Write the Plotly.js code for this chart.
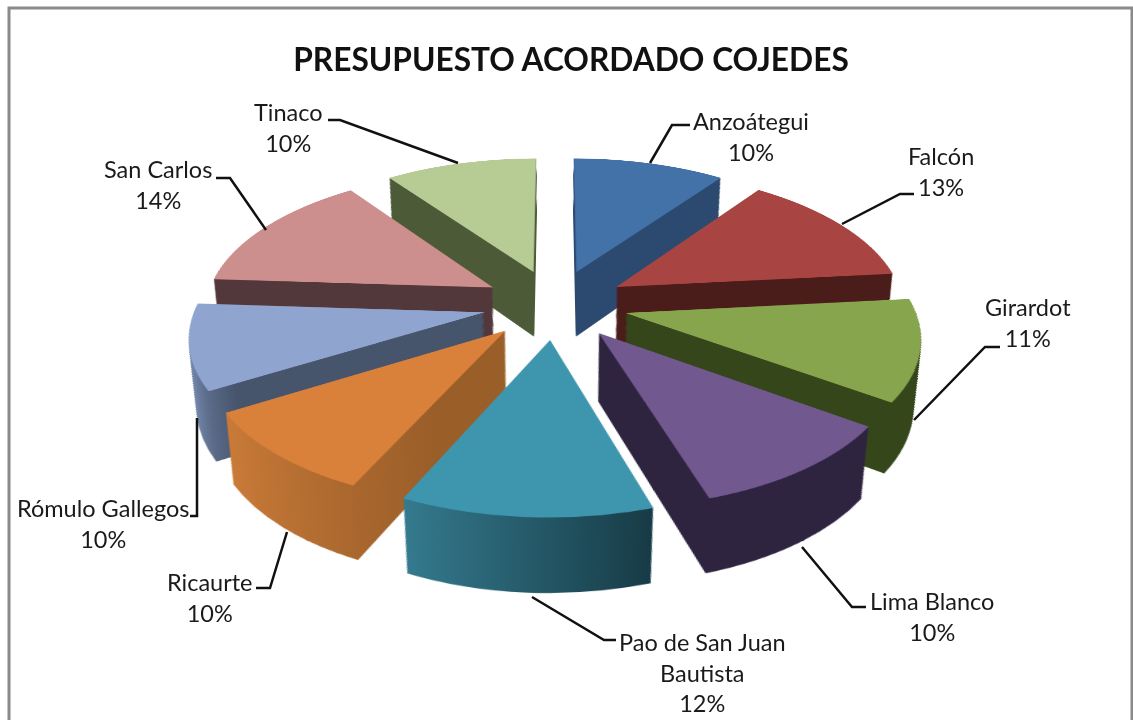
<!DOCTYPE html>
<html><head><meta charset="utf-8">
<script src="https://cdn.plot.ly/plotly-3.0.1.min.js"></script>
<style>
html,body{margin:0;padding:0;background:#fff;overflow:hidden;width:1133px;height:720px}
#wrap{position:relative;width:1133px;height:720px;overflow:hidden}
#pie{position:absolute;left:0;top:-196px;width:1133px;height:1000px;transform-origin:555px 500px;transform:perspective(1700px) rotateX(61.1deg)}
#over{position:absolute;left:0;top:0;width:1133px;height:720px}
</style>
</head><body><div id="wrap"><div id="pie"></div><div id="over"></div></div>
<script>
const categories = ["Anzoátegui","Falcón","Girardot","Lima Blanco","Pao de San Juan Bautista","Ricaurte","Rómulo Gallegos","San Carlos","Tinaco"];
const percents = [10,13.4,11.4,10.4,11.7,9.5,9.6,14,10];
const topColors = ["#4272a8","#a84442","#87a54c","#71588f","#3e96ae","#d9813a","#8fa5cf","#cd8f8d","#b7cb95"];
const wallLeft  = ["#2c4a70","#4a1c1a","#35461a","#2e2440","#347a8e","#c97a38","#7d92b8","#52383a","#4d5a38"];
const wallRight = ["#2c4a70","#4a1c1a","#35461a","#2e2440","#173b46","#9a5e29","#46546c","#52383a","#4d5a38"];
const wallStops = [1,1,1,1,1,0.75,0.22,1,1];
const labelTexts = ["Anzoátegui<br>10%","Falcón<br>13%","Girardot<br>11%","Lima Blanco<br>10%","Pao de San Juan<br>Bautista<br>12%","Ricaurte<br>10%","Rómulo Gallegos<br>10%","San Carlos<br>14%","Tinaco<br>10%"];

const W=1133,H=720;
const labelPos=[[751,136],[941,171],[1028,322],[932,616],[702,672],[210,597],[103,523],[158,184],[288,127]];
const leaders=[
 [[650,163],[672,125],[690,125]],
 [[842,224],[900,194],[914,194]],
 [[914,420],[985,347],[1000,347]],
 [[802,547],[852,607],[866,607]],
 [[532,597],[604,640],[616,640]],
 [[287,532],[270,588],[256,588]],
 [[197,418],[197,516],[190,516]],
 [[266,230],[230,178],[216,178]],
 [[458,163],[340,120],[328,120]]
];
const px=x=>x/W, py=y=>1-y/H;

// pie plane: tilted by the CSS perspective on #pie
const PW=1133,PH=1000,cx=555,cy=500,size=720;
const pull=categories.map(()=>0.25);
const dom={x:[(cx-size/2)/PW,(cx+size/2)/PW],y:[0.5-size/2/PH,0.5+size/2/PH]};
const nLayers=70, planeShift=128, planeShrink=0.085;

const base={type:'pie',values:percents,labels:categories,sort:false,direction:'clockwise',rotation:0,
  pull:pull,textinfo:'none',hoverinfo:'skip',showlegend:false,domain:dom};
const traces=[];
for(let i=nLayers;i>=1;i--) traces.push(Object.assign({},base,{marker:{colors:wallRight,line:{width:0}}}));
traces.push(Object.assign({},base,{marker:{colors:topColors,line:{width:0}}}));

const font={family:'Lato, "Open Sans", sans-serif',size:23.5,color:'#1a1a1a'};
const annotations=categories.map((c,i)=>({xref:'paper',yref:'paper',x:px(labelPos[i][0]),y:py(labelPos[i][1]),
  text:labelTexts[i],showarrow:false,xanchor:'center',yanchor:'middle',align:'center',font:font}));
const shapes=leaders.map(l=>({type:'path',xref:'paper',yref:'paper',
  path:l.map((p,i)=>(i?'L':'M')+px(p[0])+','+py(p[1])).join(' '),line:{color:'#111',width:2.5}}));
shapes.push({type:'rect',xref:'paper',yref:'paper',x0:px(9),x1:px(1132),y0:py(8),y1:py(740),line:{color:'#8a8a8a',width:3},fillcolor:'rgba(0,0,0,0)',layer:'below'});

Plotly.newPlot('pie',traces,{width:PW,height:PH,margin:{l:0,r:0,t:0,b:0},paper_bgcolor:'rgba(0,0,0,0)'},{staticPlot:true,displayModeBar:false}).then(gd=>{
  const svg=gd.querySelector('.main-svg');
  const ns='http://www.w3.org/2000/svg';
  const defs=document.createElementNS(ns,'defs');
  categories.forEach((c,j)=>{
    const g=document.createElementNS(ns,'linearGradient');
    g.setAttribute('id','wall'+j);
    [[0,wallLeft[j]],[wallStops[j],wallRight[j]]].forEach(s=>{
      const st=document.createElementNS(ns,'stop');
      st.setAttribute('offset',s[0]);st.setAttribute('stop-color',s[1]);g.appendChild(st);
    });
    defs.appendChild(g);
  });
  svg.appendChild(defs);
  const tr=gd.querySelectorAll('.pielayer .trace');
  tr.forEach((t,i)=>{
    const f=(tr.length-1-i)/nLayers;
    const k=1-planeShrink*f, dy=planeShift*f;
    t.setAttribute('transform',`translate(${cx},${cy+dy}) scale(${k}) translate(${-cx},${-cy})`);
    if(f>0) t.querySelectorAll('path.surface').forEach((p,j)=>{p.style.fill='url(#wall'+j+')';});
  });
});

Plotly.newPlot('over',[],{width:W,height:H,margin:{l:0,r:0,t:0,b:0},paper_bgcolor:'rgba(0,0,0,0)',plot_bgcolor:'rgba(0,0,0,0)',
  xaxis:{visible:false},yaxis:{visible:false},
  title:{text:'<b>PRESUPUESTO ACORDADO COJEDES</b>',font:{family:'Lato, "Open Sans", sans-serif',size:31.7,color:'#111'},x:571/W,xanchor:'center',y:1-60/H,yanchor:'middle'},
  annotations:annotations,shapes:shapes},{staticPlot:true,displayModeBar:false});
</script></body></html>
